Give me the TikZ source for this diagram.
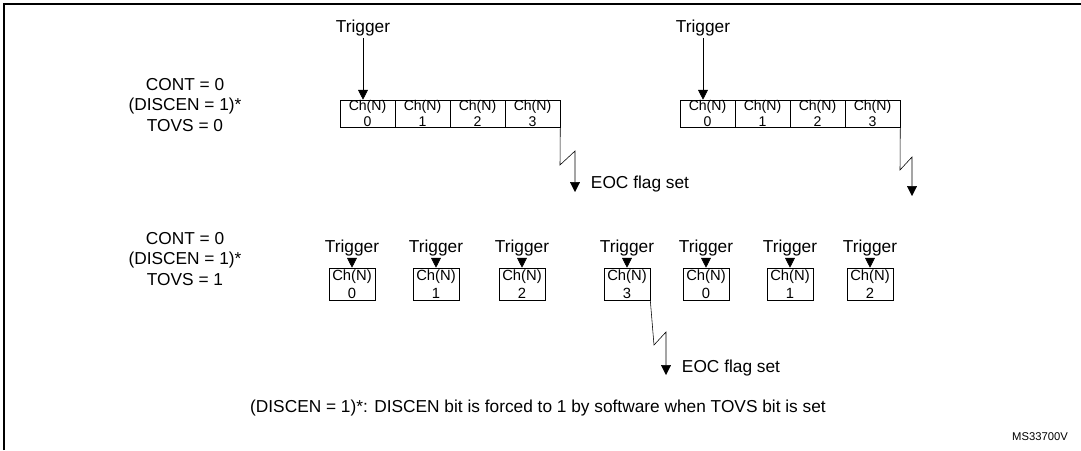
\documentclass[tikz,border=0pt]{standalone}
\usepackage{fontspec}
\setmainfont{Liberation Sans}
\usetikzlibrary{arrows.meta}
\begin{document}
\begin{tikzpicture}[x=0.025cm,y=-0.025cm,
  cell/.style={draw,minimum width=1.375cm,minimum height=0.675cm,inner sep=0pt,font=\fontsize{10}{11.5}\selectfont,align=center},
  sbox/.style={draw,minimum width=1.15cm,minimum height=0.8cm,inner sep=0pt,font=\fontsize{10.5}{12.5}\selectfont,align=center},
  lbl/.style={font=\fontsize{12.3}{14.5}\selectfont,inner sep=1pt},
  arr/.style={-{Triangle[length=7pt,width=7pt]}}]
\useasboundingbox (0,0) rectangle (1081,450);
\draw[line width=1pt] (4,450) -- (4,4) -- (1081,4);
% top row
\foreach \n [count=\i from 0] in {a,b,c,d}{
  \node(p\n) at (367.5+55*\i,113.5) [cell]{Ch(N)\\\i};
  \node(q\n) at (707.5+55*\i,113.5) [cell]{Ch(N)\\\i};
}
\node(tp) at (363,28) [lbl]{Trigger};
\node(tq) at (703,28) [lbl]{Trigger};
\draw [arr] (tp.south) -- (tp.south |- pa.north);
\draw [arr] (tq.south) -- (tq.south |- qa.north);
\node(conta) at (185,105) [lbl,align=center]{CONT = 0\\(DISCEN = 1)*\\TOVS = 0};
\node(eoca) at (640,184) [lbl]{EOC flag set};
\coordinate (za) at (575,192);
\coordinate (zb) at (912,196);
\draw [arr] (pd.south east) -- (560,165) -- (575,151) -- (za);
\draw [arr] (qd.south east) -- (900,170) -- (912,157) -- (zb);
% bottom row
\foreach \x/\c [count=\i] in {352/0,436/1,522/2,627/3,706/0,790/1,870/2}{
  \node(s\i) at (\x,284) [sbox]{Ch(N)\\\c};
  \node(t\i) at (\x,248) [lbl]{Trigger};
  \draw [arr] (t\i.south) -- (s\i.north);
}
\node(contb) at (185,259) [lbl,align=center]{CONT = 0\\(DISCEN = 1)*\\TOVS = 1};
\node(eocb) at (731,368) [lbl]{EOC flag set};
\coordinate (zc) at (666,375);
\draw [arr] (s4.south east) -- (654,345) -- (666,332) -- (zc);
\node(note) at (538,408) [lbl]{(DISCEN = 1)*: DISCEN bit is forced to 1 by software when TOVS bit is set};
\node(ms) at (1040,437) [font=\fontsize{8}{9}\selectfont]{MS33700V};
\end{tikzpicture}
\end{document}
